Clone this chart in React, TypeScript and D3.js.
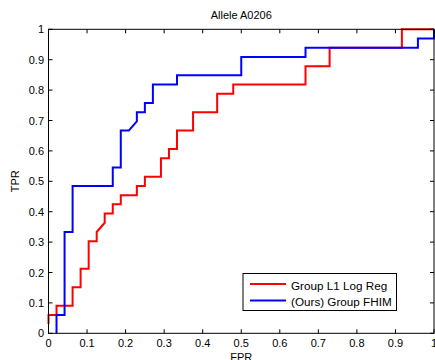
import React from "react";
import * as d3 from "d3";

const title = "Allele A0206";
const xLabel = "FPR";
const yLabel = "TPR";
const xTicks = [0, 0.1, 0.2, 0.3, 0.4, 0.5, 0.6, 0.7, 0.8, 0.9, 1];
const yTicks = [0, 0.1, 0.2, 0.3, 0.4, 0.5, 0.6, 0.7, 0.8, 0.9, 1];
const seriesNames = ["Group L1 Log Reg", "(Ours) Group FHIM"];
const seriesColors = ["#ff0000", "#0000ff"];

const redRoc: [number, number][] = [
  [0, 0.0303], [0, 0.0606], [0.0208, 0.0606], [0.0208, 0.0909], [0.0625, 0.0909],
  [0.0625, 0.1515], [0.0833, 0.1515], [0.0833, 0.2121], [0.1042, 0.2121], [0.1042, 0.303],
  [0.125, 0.303], [0.125, 0.3333], [0.1458, 0.3636], [0.1458, 0.3939], [0.1667, 0.3939],
  [0.1667, 0.4242], [0.1875, 0.4242], [0.1875, 0.4545], [0.2292, 0.4545], [0.2292, 0.4848],
  [0.25, 0.4848], [0.25, 0.5152], [0.2917, 0.5152], [0.2917, 0.5758], [0.3125, 0.5758],
  [0.3125, 0.6061], [0.3333, 0.6061], [0.3333, 0.6667], [0.375, 0.6667], [0.375, 0.7273],
  [0.4375, 0.7273], [0.4375, 0.7879], [0.4792, 0.7879], [0.4792, 0.8182], [0.6667, 0.8182],
  [0.6667, 0.8788], [0.7292, 0.8788], [0.7292, 0.9394], [0.9167, 0.9394], [0.9167, 1], [1, 1],
];

const blueRoc: [number, number][] = [
  [0.0208, 0], [0.0208, 0.0606], [0.0417, 0.0606], [0.0417, 0.3333], [0.0625, 0.3333],
  [0.0625, 0.4848], [0.1667, 0.4848], [0.1667, 0.5455], [0.1875, 0.5455], [0.1875, 0.6667],
  [0.2083, 0.6667], [0.2292, 0.697], [0.2292, 0.7273], [0.25, 0.7273], [0.25, 0.7576],
  [0.2708, 0.7576], [0.2708, 0.8182], [0.3333, 0.8182], [0.3333, 0.8485], [0.5, 0.8485],
  [0.5, 0.9091], [0.6667, 0.9091], [0.6667, 0.9394], [0.9583, 0.9394], [0.9583, 0.9697],
  [1, 0.9697], [1, 1],
];

const W = 435;
const H = 360;
const L = 48.5;
const R = 434;
const T = 29.3;
const B = 333.3;
const FONT = "'Liberation Sans', Arial, sans-serif";

export default function App() {
  const x = d3.scaleLinear().domain([0, 1]).range([L, R]);
  const y = d3.scaleLinear().domain([0, 1]).range([B, T]);
  const line = d3
    .line<[number, number]>()
    .x((d) => x(d[0]))
    .y((d) => y(d[1]));
  const series = [redRoc, blueRoc];
  const tick = 4;
  return (
    <svg
      width={W}
      height={H}
      style={{ position: "absolute", left: 0, top: 0, background: "#fff" }}
      fontFamily={FONT}
    >
      <rect x={0} y={0} width={W} height={H} fill="#fff" />
      <rect x={L} y={T} width={R - L} height={B - T} fill="#fff" />
      {series.map((s, i) => (
        <path
          key={i}
          d={line(s) || ""}
          fill="none"
          stroke={seriesColors[i]}
          strokeWidth={2}
          strokeLinejoin="miter"
        />
      ))}
      <rect x={L} y={T} width={R - L} height={B - T} fill="none" stroke="#000" strokeWidth={1} />
      {xTicks.map((t) => (
        <g key={"x" + t}>
          <line x1={x(t)} x2={x(t)} y1={B} y2={B - tick} stroke="#000" />
          <line x1={x(t)} x2={x(t)} y1={T} y2={T + tick} stroke="#000" />
          <text x={x(t)} y={347} fontSize={11} textAnchor="middle" fill="#000">
            {d3.format("~g")(t)}
          </text>
        </g>
      ))}
      {yTicks.map((t) => (
        <g key={"y" + t}>
          <line x1={L} x2={L + tick} y1={y(t)} y2={y(t)} stroke="#000" />
          <line x1={R} x2={R - tick} y1={y(t)} y2={y(t)} stroke="#000" />
          <text x={44} y={y(t) + 4} fontSize={11} textAnchor="end" fill="#000">
            {d3.format("~g")(t)}
          </text>
        </g>
      ))}
      <text x={(L + R) / 2} y={19} fontSize={11} textAnchor="middle" fill="#000">
        {title}
      </text>
      <text x={(L + R) / 2} y={361} fontSize={11} textAnchor="middle" fill="#000">
        {xLabel}
      </text>
      <text
        transform={`translate(19, ${(T + B) / 2}) rotate(-90)`}
        fontSize={11}
        textAnchor="middle"
        fill="#000"
      >
        {yLabel}
      </text>
      <rect x={243} y={273.5} width={153.5} height={37} fill="#fff" stroke="#000" strokeWidth={1} />
      {seriesNames.map((n, i) => (
        <g key={n}>
          <line x1={250} x2={286} y1={284 + i * 16.5} y2={284 + i * 16.5} stroke={seriesColors[i]} strokeWidth={2} />
          <text x={291} y={289.5 + i * 16.5} fontSize={11.7} fill="#000">
            {n}
          </text>
        </g>
      ))}
    </svg>
  );
}
